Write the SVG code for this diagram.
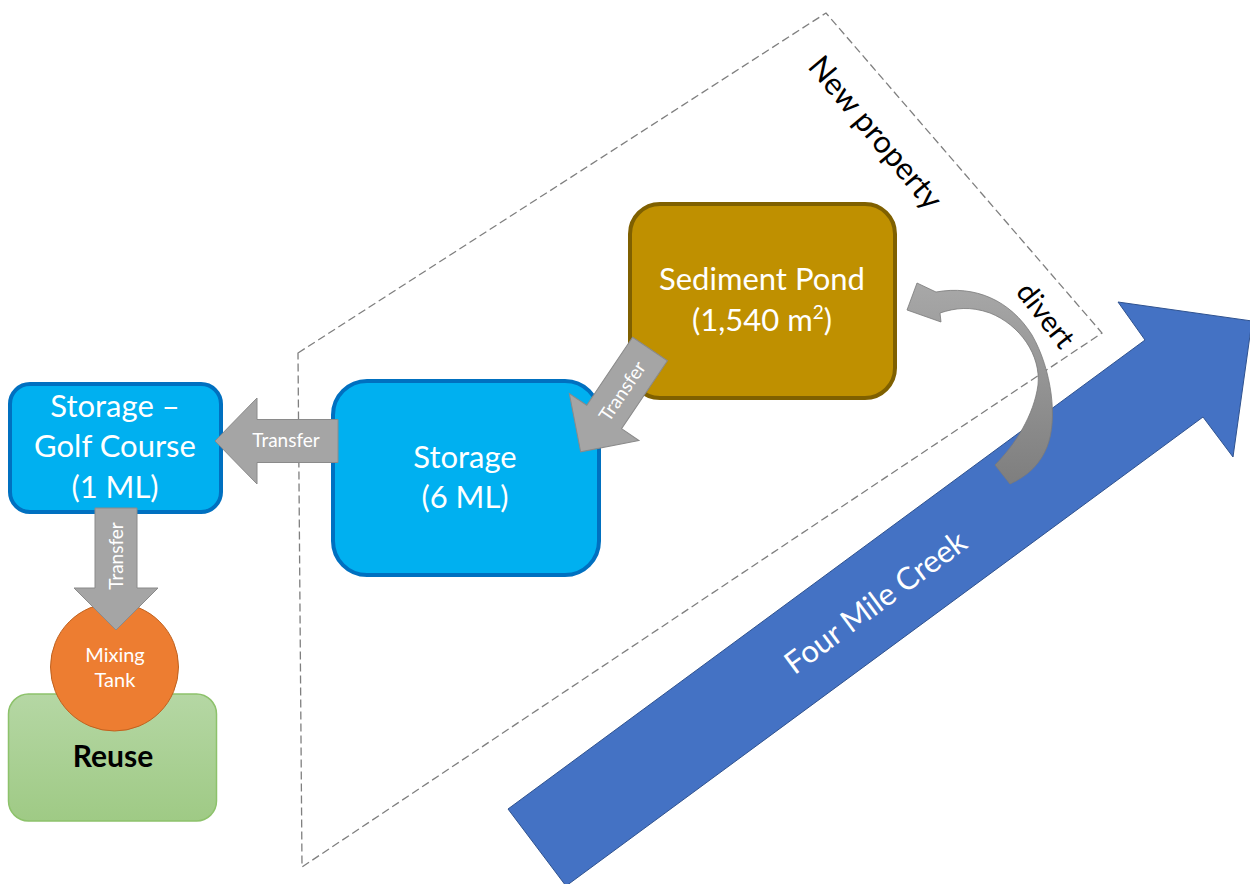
<svg xmlns="http://www.w3.org/2000/svg" width="1250" height="884" viewBox="0 0 1250 884">
<defs>
<linearGradient id="gReuse" x1="0" y1="0" x2="0" y2="1"><stop offset="0" stop-color="#B5D7A4"/><stop offset="1" stop-color="#9FCA85"/></linearGradient>
<linearGradient id="gDivert" x1="0" y1="0" x2="0" y2="1"><stop offset="0" stop-color="#A8A8A8"/><stop offset="1" stop-color="#7E7E7E"/></linearGradient>
<style>
text{font-family:Lato,"Liberation Sans",sans-serif;text-anchor:middle}
.w{fill:#fff}
.big{font-size:31px}
.tr{font-size:19px;fill:#fff}
.garrow{fill:#A5A5A5;stroke:#8A8A8A;stroke-width:1}
.blk{fill:#000}
</style>
</defs>
<rect width="1250" height="884" fill="#fff"/>
<g id="property-boundary">
<polygon points="298,353 826,13 1102,333 302,867" fill="none" stroke="#7F7F7F" stroke-width="1.3" stroke-dasharray="8 4"/>
<text class="big blk" transform="translate(875,133) rotate(50)" y="10">New property</text>
<text class="blk" font-size="29" transform="translate(1045,316) rotate(52)" y="9">divert</text>
</g>
<g id="four-mile-creek">
<polygon points="508,809 1145,340 1118,302 1252,321 1233,457 1203,417 566,886" fill="#4472C4" stroke="#2F528F" stroke-width="1"/>
<text class="big w" transform="translate(876,603) rotate(-36.4)" y="10">Four Mile Creek</text>
</g>
<g id="sediment-pond">
<rect x="630" y="204" width="265" height="194" rx="30" fill="#BF9000" stroke="#7F6000" stroke-width="4"/>
<text class="big w" x="762" y="290">Sediment Pond</text>
<text class="big w" x="762" y="331">(1,540 m<tspan font-size="19" dy="-12">2</tspan><tspan dy="12">)</tspan></text>
</g>
<g id="storage">
<rect x="333" y="381" width="266" height="194" rx="34" fill="#00B0F0" stroke="#0070C0" stroke-width="4"/>
<text class="big w" x="465" y="468">Storage</text>
<text class="big w" x="465" y="508">(6 ML)</text>
</g>
<g id="storage-golf-course">
<rect x="10" y="384" width="211" height="128" rx="20" fill="#00B0F0" stroke="#0070C0" stroke-width="4"/>
<text class="big w" x="115" y="417">Storage –</text>
<text class="big w" x="115" y="457">Golf Course</text>
<text class="big w" x="115" y="498">(1 ML)</text>
</g>
<g id="reuse">
<rect x="8.5" y="694" width="208" height="127" rx="20" fill="url(#gReuse)" stroke="#8DC26B" stroke-width="1.5"/>
<text class="blk" font-size="30" font-weight="bold" x="113" y="767">Reuse</text>
</g>
<g id="mixing-tank">
<circle cx="114.5" cy="667" r="64" fill="#ED7D31" stroke="#C0621F" stroke-width="1"/>
<text class="w" font-size="20" x="115" y="662">Mixing</text>
<text class="w" font-size="20" x="115" y="687">Tank</text>
</g>
<g id="connectors">
<g id="transfer-storage-to-golf">
<polygon class="garrow" points="338,419.5 257,419.5 257,398 215,441 257,484 257,462.5 338,462.5"/>
<text class="tr" x="286" y="447">Transfer</text>
</g>
<g id="transfer-golf-to-mixing">
<polygon class="garrow" points="95,508 137,508 137,588 158,588 116,630 74,588 95,588"/>
<text class="tr" transform="translate(116,556) rotate(-90)" y="7">Transfer</text>
</g>
<g id="transfer-pond-to-storage">
<polygon class="garrow" transform="translate(650,349) rotate(124)" points="0,-21 82,-21 82,-42 124,0 82,42 82,21 0,21"/>
<text class="tr" transform="translate(622,391) rotate(-56)" y="7">Transfer</text>
</g>
<path id="divert-arrow" d="M907,310 L917,283 L936,292 C975,285 1010,300 1032,335 C1052,370 1058,420 1047,447 C1041,462 1030,475 1010,484 L995,465 C1015,445 1034,415 1038,385 C1041,355 1020,325 990,313 C970,306 955,308 940,313 L941,322 Z" fill="url(#gDivert)" stroke="#7A7A7A" stroke-width="0.8"/>
</g>
</svg>
